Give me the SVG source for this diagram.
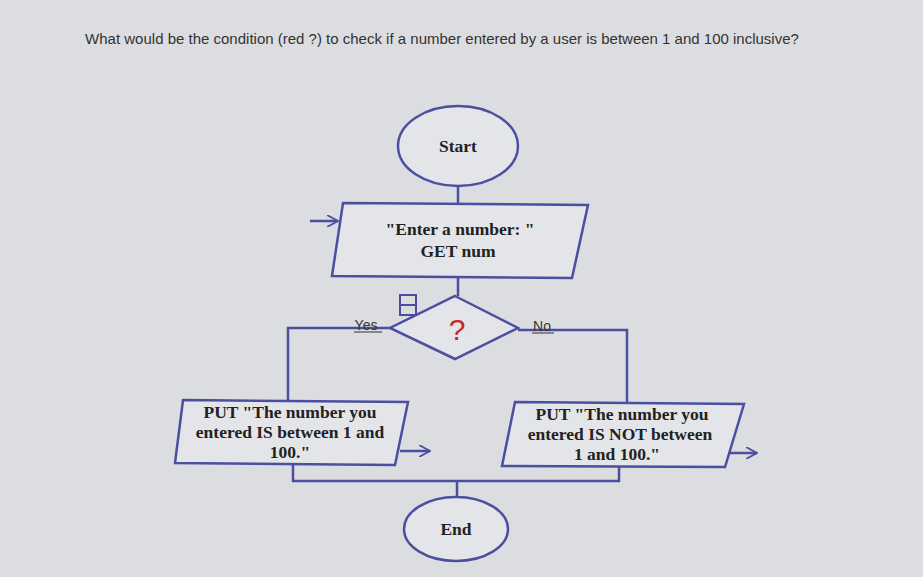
<svg xmlns="http://www.w3.org/2000/svg" width="923" height="577" viewBox="0 0 923 577">
<defs>
<marker id="ah" markerWidth="12" markerHeight="12" refX="11" refY="6" orient="auto" markerUnits="userSpaceOnUse"><path d="M0,0 L11,6 L0,12" fill="none" stroke="#4a4fa0" stroke-width="1.8"/></marker>
</defs>
<style>
.s{fill:none;stroke:#4a4fa0;stroke-width:2.5}
.f{fill:#e4e5e8;stroke:#4a4fa0;stroke-width:2.5}
.t{font-family:"Liberation Serif",serif;font-size:17.5px;font-weight:600;fill:#222;text-anchor:middle}
.l{font-family:"Liberation Sans",sans-serif;font-size:14px;fill:#333;text-anchor:middle}
</style>
<rect width="923" height="577" fill="#dcdde1"/>
<text x="442" y="44" font-family="Liberation Sans,sans-serif" font-size="15" fill="#333" text-anchor="middle">What would be the condition (red ?) to check if a number entered by a user is between 1 and 100 inclusive?</text>
<g id="connectors">
<path class="s" d="M458,186 V203"/>
<path class="s" d="M310,221 H338" marker-end="url(#ah)"/>
<path class="s" d="M458,278 V296"/>
<path class="s" d="M390,328 H288 V401"/>
<path class="s" d="M518,330 H627 V403"/>
<path class="s" d="M293,464 V481 H619 V467"/>
<path class="s" d="M457,481 V497"/>
<path class="s" d="M400,451 H430" marker-end="url(#ah)"/>
<path class="s" d="M730,453 H757" marker-end="url(#ah)"/>
<path d="M354,332 H382" stroke="#333" stroke-width="1"/>
<path d="M532,333 H554" stroke="#333" stroke-width="1"/>
<text class="l" x="366" y="330">Yes</text>
<text class="l" x="542" y="331">No</text>
</g>
<g id="start"><ellipse class="f" cx="458" cy="146" rx="60" ry="40"/><text class="t" x="458" y="152">Start</text></g>
<g id="input"><polygon class="f" points="343,203 588,205 572,278 332,276"/><text class="t" x="460" y="235">"Enter a number: "</text><text class="t" x="458" y="257">GET num</text></g>
<g id="decision"><polygon class="f" points="455,296 518,328 455,359 390,328"/>
<text x="457" y="340" font-family="Liberation Sans,sans-serif" font-size="30" fill="#c0282a" text-anchor="middle">?</text>
<rect x="400" y="295" width="16" height="20" fill="none" stroke="#4a4fa0" stroke-width="2"/><path d="M400,305 H416" stroke="#4a4fa0" stroke-width="2"/></g>
<g id="yesout"><polygon class="f" points="183,400 408,402 395,465 175,463"/>
<text class="t" x="290" y="418">PUT "The number you</text><text class="t" x="290" y="438">entered IS between 1 and</text><text class="t" x="290" y="458">100."</text></g>
<g id="noout"><polygon class="f" points="515,402 744,404 725,467 502,466"/>
<text class="t" x="622" y="420">PUT "The number you</text><text class="t" x="620" y="440">entered IS NOT between</text><text class="t" x="617" y="460">1 and 100."</text></g>
<g id="end"><ellipse class="f" cx="456" cy="529" rx="52" ry="32"/><text class="t" x="456" y="535">End</text></g>
</svg>
